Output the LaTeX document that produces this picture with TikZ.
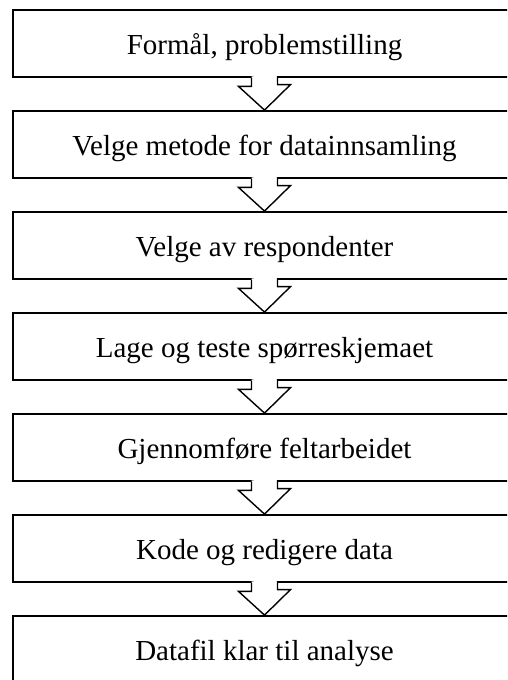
\documentclass[tikz,border=0pt]{standalone}
\usepackage{fontspec}
\setmainfont{Liberation Serif}
\tikzset{
  stepbox/.style={draw, line width=1.8pt, minimum width=503pt, minimum height=67pt,
    inner sep=0pt, text height=21pt, text depth=0pt, font=\fontsize{29}{34}\selectfont},
  flowarrow/.style={draw, line width=1.4pt, line join=miter}
}
% hollow block arrow from the bottom of one box to the top of the next
\newcommand{\blockarrow}[2]{%
  \fill[white] (#1.south) ++(-13,-1.5) -- ++(0,10) -- ++(-13,0) -- (#2.north) -- ++(26,-25.5) -- ++(-13,0) -- ++(0,-10) -- cycle;
  \draw[flowarrow] (#1.south) ++(-13,0) -- ++(0,8.5) -- ++(-13,0) -- (#2.north) -- ++(26,-25.5) -- ++(-13,0) -- ++(0,-8.5);
}
\begin{document}
\begin{tikzpicture}[x=1pt,y=-1pt]
\useasboundingbox (0,0) rectangle (507,680);
\clip (0,0) rectangle (507,680);
\node[stepbox] (formaal) at (264.5,43.5) {Formål, problemstilling};
\node[stepbox] (metode) at (264.5,144.5) {Velge metode for datainnsamling};
\node[stepbox] (utvalg) at (264.5,245.5) {Velge av respondenter};
\node[stepbox] (skjema) at (264.5,346.5) {Lage og teste spørreskjemaet};
\node[stepbox] (felt) at (264.5,447.5) {Gjennomføre feltarbeidet};
\node[stepbox] (kode) at (264.5,548.5) {Kode og redigere data};
\node[stepbox] (datafil) at (264.5,649.5) {Datafil klar til analyse};
\blockarrow{formaal}{metode}
\blockarrow{metode}{utvalg}
\blockarrow{utvalg}{skjema}
\blockarrow{skjema}{felt}
\blockarrow{felt}{kode}
\blockarrow{kode}{datafil}
\end{tikzpicture}
\end{document}
